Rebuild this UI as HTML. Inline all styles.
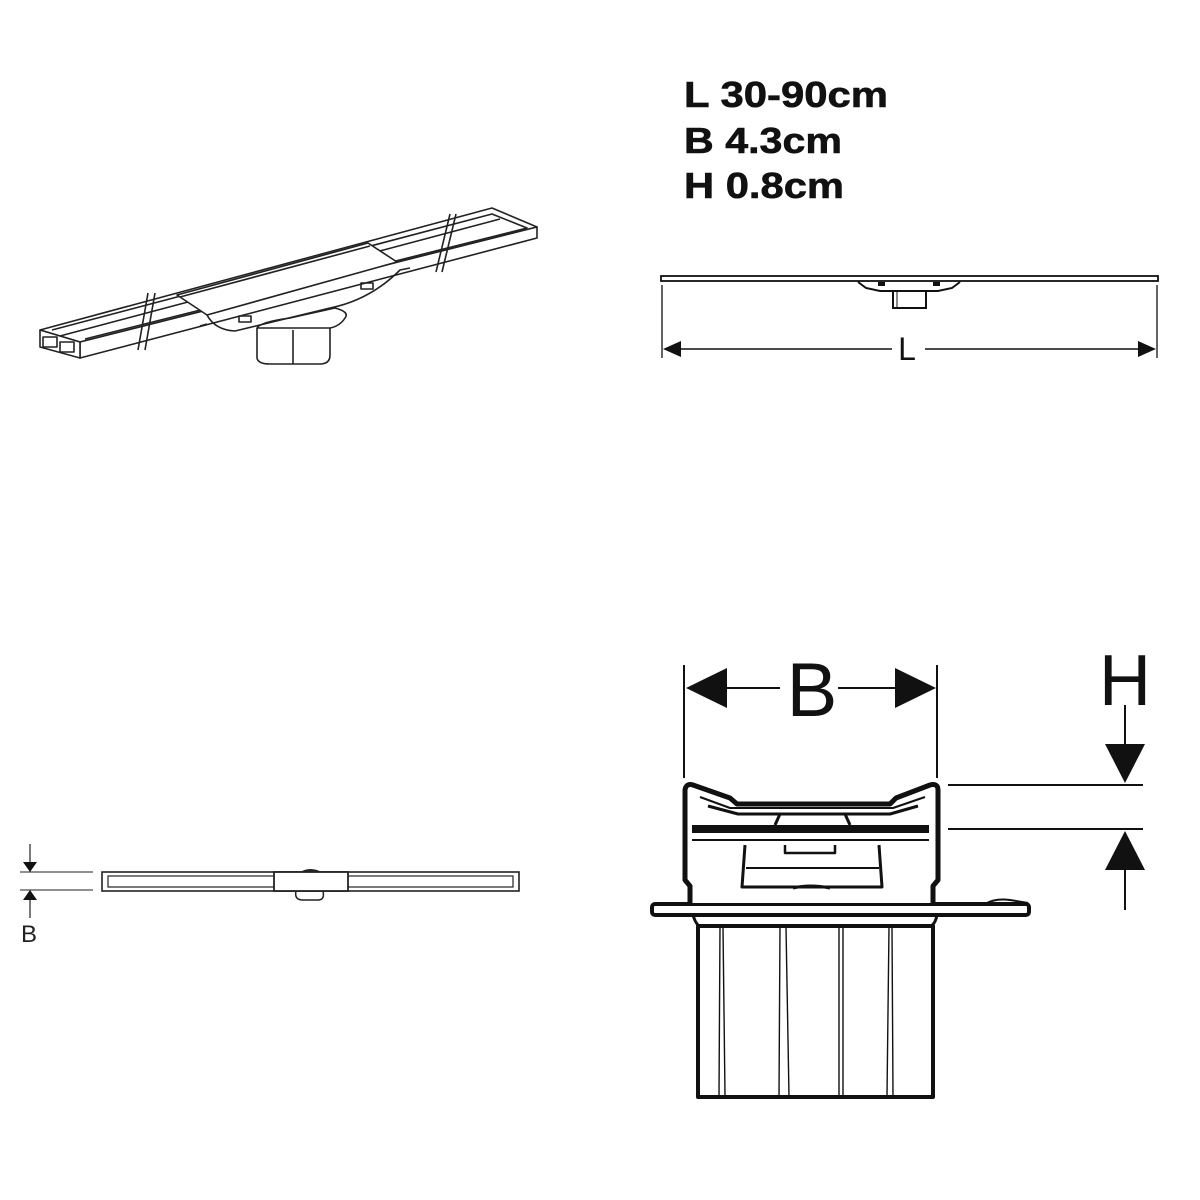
<!DOCTYPE html>
<html><head><meta charset="utf-8"><style>
html,body{margin:0;padding:0;background:#fff;}
svg{display:block;}
</style></head><body>
<svg width="1200" height="1200" viewBox="0 0 1200 1200" xmlns="http://www.w3.org/2000/svg" font-family="Liberation Sans, sans-serif">
<rect width="1200" height="1200" fill="#fff"/>
<!-- specs text -->
<g font-weight="bold" font-size="36" fill="#111" stroke="#111" stroke-width="0.6">
<text x="684" y="107" textLength="204" lengthAdjust="spacingAndGlyphs">L 30-90cm</text>
<text x="684" y="153" textLength="158" lengthAdjust="spacingAndGlyphs">B 4.3cm</text>
<text x="684" y="198" textLength="160" lengthAdjust="spacingAndGlyphs">H 0.8cm</text>
</g>
<!-- isometric view -->
<g fill="none" stroke="#222" stroke-width="1.6" stroke-linejoin="round">
<polygon points="40,330 492,208 537,227 80,342" fill="#fff"/>
<polygon points="80,342 537,227 537,238 80,358" fill="#fff"/>
<polygon points="40,330 80,342 80,358 40,347" fill="#fff"/>
<polyline points="52,330 492,214 527,228 85,339"/>
<line x1="60" y1="336" x2="500" y2="219"/>
<rect x="43" y="337" width="14" height="10"/>
<rect x="60" y="342" width="14" height="10"/>
<path d="M257,328 L257,358 Q258,364 270,364 L320,364 Q330,364 330,355 L330,328" fill="#fff"/>
<line x1="293" y1="330" x2="293" y2="364"/>
<path d="M257,328 Q260,322 290,318 L335,308 Q350,312 345,318 Q340,326 330,328 Z" fill="#fff"/>
<polygon points="177,295 368,243 397,262 207,315" fill="#fff"/>
<line x1="180" y1="297" x2="370" y2="246"/>
<path d="M207,315 Q215,330 235,331 L330,308 Q370,300 400,270 L410,268" />
<path d="M200,326 L207,324"/>
<rect x="239" y="316" width="12" height="6"/>
<rect x="361" y="283" width="12" height="6"/>
<line x1="148" y1="293" x2="138" y2="350"/>
<line x1="155" y1="293" x2="145" y2="350"/>
<line x1="450" y1="214" x2="436" y2="272"/>
<line x1="456" y1="214" x2="442" y2="272"/>
</g>
<!-- side view top-right -->
<g stroke="#111" fill="none">
<rect x="661" y="276" width="497" height="5" stroke-width="1.8" fill="#fff"/>
<path d="M858,282 L866,288 L880,291 L938,291 L952,288 L960,282" stroke-width="2"/>
<rect x="893" y="291" width="33" height="17" stroke-width="2" fill="#fff"/>
<line x1="897" y1="292" x2="897" y2="307" stroke-width="1"/>
<rect x="878" y="282" width="7" height="4" fill="#111" stroke="none"/>
<rect x="933" y="282" width="7" height="4" fill="#111" stroke="none"/>
<line x1="662" y1="285" x2="662" y2="358" stroke-width="1.3"/>
<line x1="1157" y1="285" x2="1157" y2="358" stroke-width="1.3"/>
<line x1="680" y1="349" x2="892" y2="349" stroke-width="1.5"/>
<line x1="925" y1="349" x2="1140" y2="349" stroke-width="1.5"/>
</g>
<polygon points="663,349 681,341 681,357" fill="#111"/>
<polygon points="1156,349 1138,341 1138,357" fill="#111"/>
<text x="907" y="360" font-size="32" text-anchor="middle" fill="#111">L</text>
<!-- bottom-left top view -->
<g stroke="#222" fill="none">
<line x1="20" y1="872" x2="93" y2="872" stroke-width="1"/>
<line x1="20" y1="890" x2="93" y2="890" stroke-width="1"/>
<line x1="30" y1="844" x2="30" y2="862" stroke-width="1.2"/>
<line x1="30" y1="900" x2="30" y2="918" stroke-width="1.2"/>
<rect x="102" y="872" width="417" height="19" stroke-width="1.6"/>
<rect x="108" y="876" width="405" height="11" stroke-width="1.2"/>
<rect x="274" y="872" width="74" height="19" stroke-width="1.8" fill="#fff"/>
<path d="M296,891 Q294,900 303,900 L318,900 Q325,900 323,891" stroke-width="1.5"/>
</g>
<path d="M300,872 Q310,866 322,872 Z" fill="#222"/>
<polygon points="23,862 37,862 30,872" fill="#111"/>
<polygon points="23,900 37,900 30,890" fill="#111"/>
<text x="29" y="942" font-size="24" text-anchor="middle" fill="#222">B</text>
<!-- bottom-right section -->
<g stroke="#111" fill="none">
<line x1="684" y1="665" x2="684" y2="778" stroke-width="2"/>
<line x1="937" y1="665" x2="937" y2="778" stroke-width="2"/>
<line x1="720" y1="688" x2="780" y2="688" stroke-width="2"/>
<line x1="838" y1="688" x2="900" y2="688" stroke-width="2"/>
<line x1="1125" y1="705" x2="1125" y2="750" stroke-width="2"/>
<line x1="1125" y1="862" x2="1125" y2="910" stroke-width="2"/>
<line x1="948" y1="785" x2="1143" y2="785" stroke-width="2"/>
<line x1="948" y1="829" x2="1143" y2="829" stroke-width="2"/>
</g>
<polygon points="686,688 727,668 727,708" fill="#111"/>
<polygon points="936,688 895,668 895,708" fill="#111"/>
<polygon points="1125,783 1105,744 1145,744" fill="#111"/>
<polygon points="1125,831 1105,870 1145,870" fill="#111"/>
<text x="812" y="716" font-size="76" text-anchor="middle" fill="#111">B</text>
<text x="1125" y="705" font-size="72" text-anchor="middle" fill="#111">H</text>
<g stroke="#111" fill="none" stroke-linejoin="round">
<rect x="698" y="926" width="235" height="171" stroke-width="4" fill="#fff"/>
<path d="M720,927 L719,1096 M723,927 L725,1096 M780,927 L779,1096 M786,927 L789,1096 M839,927 L839,1096 M843,927 L843,1096 M889,927 L887,1096 M892,927 L893,1096" stroke-width="1.4"/>
<path d="M693,915 Q696,925 700,926 L930,926 Q935,925 937,915" stroke-width="3"/>
<rect x="652" y="904" width="377" height="11" rx="3" stroke-width="4" fill="#fff"/>
<path d="M985,904 Q995,898 1010,900 L1028,903" stroke-width="2"/>
<path d="M700,904 Q800,895 930,899" stroke-width="1.5"/>
<path d="M690,903 L690,886 L685,880 L685,790 Q686,783 693,785 L730,798 L737,804 L890,804 L896,798 L930,785 Q938,783 938,790 L938,880 L933,886 L933,903" stroke-width="5" fill="#fff"/>
<path d="M700,797 L730,808 L893,808 L925,797" stroke-width="2"/>
<path d="M708,806 L738,814 L890,814 L918,806" stroke-width="3"/>
<rect x="692" y="825" width="237" height="8" fill="#111" stroke="none"/>
<path d="M775,825 L780,814 L845,814 L850,825" stroke-width="3" fill="#fff"/>
<line x1="692" y1="840" x2="929" y2="840" stroke-width="2"/>
<path d="M745,845 L742,887 L882,887 L879,845" stroke-width="3"/>
<line x1="746" y1="868" x2="879" y2="868" stroke-width="2"/>
<path d="M785,845 L785,853 L835,853 L835,845" stroke-width="2.5"/>
<path d="M793,888 Q810,884 830,888" stroke-width="3"/>
</g>
</svg>
</body></html>
